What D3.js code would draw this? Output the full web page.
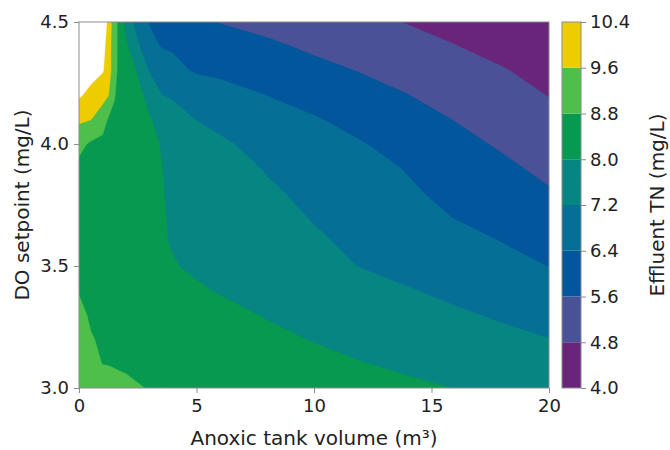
<!DOCTYPE html>
<html><head><meta charset="utf-8">
<script src="https://cdn.jsdelivr.net/npm/d3@7"></script>
<style>
body{margin:0;background:#fff}
text{font-family:"DejaVu Sans",sans-serif;fill:#222}
</style>
</head><body>
<svg id="c" width="670" height="450"></svg>
<script>
// Grid coordinates (anoxic tank volume, m3) and DO setpoint rows (mg/L)
const xGrid = [0, 0.5, 1, 1.25, 1.5, 1.75, 2, 2.5, 3, 3.5, 4, 5, 6, 8, 10, 12, 14, 16, 18, 20];
const yGrid = [3.0, 3.1, 3.2, 3.3, 3.4, 3.5, 3.6, 3.7, 3.8, 3.9, 4.0, 4.1, 4.2, 4.3, 4.4, 4.5];

// Effluent TN (mg/L), one array per DO row
const tn30 = [9.18, 9.11, 9.04, 9.00, 8.97, 8.93, 8.90, 8.83, 8.78, 8.75, 8.72, 8.66, 8.60, 8.48, 8.36, 8.24, 8.12, 7.99, 7.84, 7.68];
const tn31 = [9.08, 8.93, 8.79, 8.78, 8.76, 8.74, 8.73, 8.69, 8.66, 8.62, 8.59, 8.52, 8.45, 8.30, 8.16, 8.02, 7.88, 7.74, 7.59, 7.45];
const tn32 = [8.98, 8.82, 8.76, 8.74, 8.72, 8.69, 8.67, 8.63, 8.58, 8.54, 8.49, 8.40, 8.32, 8.14, 7.97, 7.81, 7.66, 7.51, 7.36, 7.21];
const tn33 = [8.88, 8.76, 8.72, 8.70, 8.67, 8.64, 8.61, 8.56, 8.50, 8.45, 8.39, 8.28, 8.17, 7.96, 7.79, 7.62, 7.45, 7.29, 7.12, 6.94];
const tn34 = [8.78, 8.71, 8.64, 8.60, 8.57, 8.53, 8.50, 8.43, 8.36, 8.29, 8.21, 8.07, 7.96, 7.78, 7.60, 7.42, 7.24, 7.05, 6.85, 6.66];
const tn35 = [8.62, 8.55, 8.47, 8.43, 8.40, 8.36, 8.32, 8.25, 8.17, 8.10, 8.03, 7.91, 7.81, 7.60, 7.39, 7.18, 6.98, 6.79, 6.59, 6.39];
const tn36 = [8.60, 8.52, 8.44, 8.40, 8.36, 8.32, 8.28, 8.20, 8.12, 8.04, 7.97, 7.86, 7.74, 7.51, 7.29, 7.06, 6.84, 6.61, 6.39, 6.15];
const tn37 = [8.62, 8.54, 8.45, 8.41, 8.37, 8.33, 8.28, 8.20, 8.11, 8.03, 7.96, 7.82, 7.69, 7.43, 7.16, 6.90, 6.64, 6.38, 6.14, 5.90];
const tn38 = [8.66, 8.57, 8.48, 8.43, 8.39, 8.34, 8.30, 8.21, 8.11, 8.02, 7.94, 7.78, 7.62, 7.31, 7.02, 6.76, 6.49, 6.22, 5.94, 5.66];
const tn39 = [8.62, 8.53, 8.45, 8.40, 8.36, 8.32, 8.27, 8.19, 8.10, 8.01, 7.92, 7.72, 7.52, 7.15, 6.89, 6.63, 6.36, 6.05, 5.75, 5.43];
const tn40 = [8.99, 8.70, 8.50, 8.45, 8.42, 8.38, 8.34, 8.23, 8.11, 7.98, 7.84, 7.57, 7.30, 6.98, 6.71, 6.44, 6.13, 5.82, 5.51, 5.21];
const tn41 = [9.73, 9.61, 9.30, 8.70, 8.67, 8.57, 8.46, 8.25, 8.04, 7.81, 7.58, 7.18, 7.03, 6.74, 6.46, 6.16, 5.87, 5.58, 5.29, 5.00];
const tn42 = [10.50, 10.17, 9.78, 9.62, 8.84, 8.59, 8.50, 8.17, 7.80, 7.22, 7.10, 6.94, 6.75, 6.39, 6.13, 5.87, 5.61, 5.34, 5.06, 4.78];
const tn43 = [10.90, 10.70, 10.46, 10.07, 9.00, 8.58, 8.42, 7.93, 7.14, 6.96, 6.60, 6.32, 6.22, 6.03, 5.80, 5.57, 5.33, 5.09, 4.85, 4.56];
const tn44 = [11.20, 11.00, 10.71, 10.00, 9.09, 8.49, 8.15, 7.32, 6.60, 6.37, 6.32, 6.17, 6.02, 5.73, 5.48, 5.26, 5.04, 4.82, 4.58, 4.34];
const tn45 = [11.70, 11.60, 11.40, 10.00, 9.20, 8.40, 7.70, 6.87, 6.36, 6.24, 6.09, 5.80, 5.57, 5.37, 5.17, 4.97, 4.77, 4.55, 4.34, 4.12];

const levels = [4.0, 4.8, 5.6, 6.4, 7.2, 8.0, 8.8, 9.6, 10.4];
const bandColors = ["#68257a", "#4b5196", "#02569b", "#066f96", "#068583", "#07994f", "#4fbf4b", "#edcd00"];
const xTicks = [0, 5, 10, 15, 20];
const yTicks = [3.0, 3.5, 4.0, 4.5];

const svg = d3.select("#c");
const L = 79, R = 549, T = 22, B = 388;
const x = d3.scaleLinear().domain([0, 20]).range([L, R]);
const y = d3.scaleLinear().domain([3.0, 4.5]).range([B, T]);

const rows = [tn30, tn31, tn32, tn33, tn34, tn35, tn36, tn37, tn38, tn39, tn40, tn41, tn42, tn43, tn44, tn45];
const nx = xGrid.length, ny = yGrid.length;
const values = rows.flat();

function gridPos(arr, c) {
  const t = c - 0.5;
  if (t <= 0) return arr[0];
  if (t >= arr.length - 1) return arr[arr.length - 1];
  const i = Math.floor(t);
  return arr[i] + (t - i) * (arr[i + 1] - arr[i]);
}

const contours = d3.contours().size([nx, ny]).thresholds(levels)(values);
const proj = d3.geoTransform({
  point(px, py) { this.stream.point(x(gridPos(xGrid, px)), y(gridPos(yGrid, py))); }
});
const path = d3.geoPath(proj);

svg.append("defs").append("clipPath").attr("id", "pc")
  .append("rect").attr("x", L).attr("y", T).attr("width", R - L).attr("height", B - T);

svg.append("rect").attr("x", L).attr("y", T).attr("width", R - L).attr("height", B - T).attr("fill", "#fff");

svg.append("g").attr("clip-path", "url(#pc)")
  .selectAll("path").data(contours).join("path")
  .attr("d", path)
  .attr("fill", (d, i) => i < bandColors.length ? bandColors[i] : "#ffffff")
  .attr("stroke", (d, i) => i < bandColors.length ? bandColors[i] : "#ffffff")
  .attr("stroke-width", 0.5);

// frame
svg.append("rect").attr("x", L).attr("y", T).attr("width", R - L).attr("height", B - T)
  .attr("fill", "none").attr("stroke", "#8c8c8c").attr("stroke-width", 1);

const xAxis = svg.append("g").attr("transform", `translate(0,${B})`)
  .call(d3.axisBottom(x).tickValues(xTicks).tickFormat(d3.format("d")).tickSize(5).tickPadding(6).tickSizeOuter(0));
const yAxis = svg.append("g").attr("transform", `translate(${L},0)`)
  .call(d3.axisLeft(y).tickValues(yTicks).tickFormat(d3.format(".1f")).tickSize(5).tickPadding(5).tickSizeOuter(0));
[xAxis, yAxis].forEach(g => {
  g.select(".domain").remove();
  g.selectAll(".tick line").attr("stroke", "#8c8c8c");
  g.selectAll(".tick text").style("font-size", "18px").attr("fill", "#222");
});

svg.append("text").attr("x", (L + R) / 2).attr("y", 445).attr("text-anchor", "middle")
  .style("font-size", "20px").text("Anoxic tank volume (m³)");
svg.append("text").attr("transform", `translate(29,${(T + B) / 2}) rotate(-90)`).attr("text-anchor", "middle")
  .style("font-size", "20px").text("DO setpoint (mg/L)");

// colorbar
const CL = 562, CW = 19;
const cy = d3.scaleLinear().domain([4.0, 10.4]).range([B, T]);
svg.append("g").selectAll("rect").data(bandColors).join("rect")
  .attr("x", CL).attr("width", CW)
  .attr("y", (d, i) => cy(levels[i + 1]))
  .attr("height", (d, i) => cy(levels[i]) - cy(levels[i + 1]))
  .attr("fill", d => d);
svg.append("rect").attr("x", CL).attr("y", T).attr("width", CW).attr("height", B - T)
  .attr("fill", "none").attr("stroke", "#8c8c8c").attr("stroke-width", 1);
const cAxis = svg.append("g").attr("transform", `translate(${CL + CW},0)`)
  .call(d3.axisRight(cy).tickValues(levels).tickFormat(d3.format(".1f")).tickSize(5).tickPadding(4).tickSizeOuter(0));
cAxis.select(".domain").remove();
cAxis.selectAll(".tick line").attr("stroke", "#8c8c8c");
cAxis.selectAll(".tick text").style("font-size", "18px").attr("fill", "#222");

svg.append("text").attr("transform", `translate(664,${(T + B) / 2}) rotate(-90)`).attr("text-anchor", "middle")
  .style("font-size", "20px").text("Effluent TN (mg/L)");
</script>
</body></html>
